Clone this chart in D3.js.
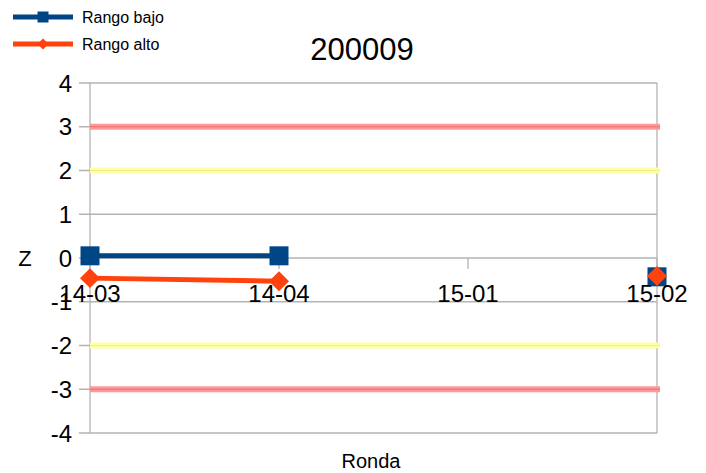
<!DOCTYPE html>
<html>
<head>
<meta charset="utf-8">
<script src="https://cdn.jsdelivr.net/npm/d3@7"></script>
<style>
  body { margin: 0; background: #fff; }
  text { font-family: "Liberation Sans", Arial, sans-serif; fill: #000; }
</style>
</head>
<body>
<div id="chart"></div>
<script>
// chart values
var rondas = ["14-03", "14-04", "15-01", "15-02"];
var rangoBajo = [0.05, 0.05, null, -0.43];
var rangoAlto = [-0.46, -0.53, null, -0.41];
var yTicks = [-4, -3, -2, -1, 0, 1, 2, 3, 4];
var limitesRojos = [3, -3];
var limitesAmarillos = [2, -2];
var titulo = "200009";

var width = 706, height = 473;
var margin = {left: 90, right: 49, top: 83, bottom: 40};

var svg = d3.select("#chart").append("svg")
    .attr("width", width)
    .attr("height", height);

var xScale = d3.scalePoint().domain(rondas).range([margin.left, width - margin.right]).padding(0);
var yScale = d3.scaleLinear().domain([-4, 4]).range([height - margin.bottom, margin.top]);

var grid = "#b3b3b3";

// horizontal gridlines
svg.append("g").selectAll("line")
    .data(yTicks)
    .enter().append("line")
    .attr("x1", margin.left - 11)
    .attr("x2", width - margin.right)
    .attr("y1", function(d) { return yScale(d); })
    .attr("y2", function(d) { return yScale(d); })
    .attr("stroke", grid)
    .attr("stroke-width", 1.3);

// y axis line and right border
svg.append("line")
    .attr("x1", margin.left).attr("x2", margin.left)
    .attr("y1", yScale(4)).attr("y2", yScale(-4))
    .attr("stroke", grid).attr("stroke-width", 1.3);
svg.append("line")
    .attr("x1", width - margin.right).attr("x2", width - margin.right)
    .attr("y1", yScale(4)).attr("y2", yScale(-4))
    .attr("stroke", grid).attr("stroke-width", 1.3);

// x tick marks on the zero line
svg.append("g").selectAll("line")
    .data(rondas)
    .enter().append("line")
    .attr("x1", function(d) { return xScale(d); })
    .attr("x2", function(d) { return xScale(d); })
    .attr("y1", yScale(0))
    .attr("y2", yScale(0) + 11)
    .attr("stroke", grid).attr("stroke-width", 1.3);

// limit lines
function limite(values, outer, inner) {
  var g = svg.append("g");
  g.selectAll(".outer").data(values).enter().append("line")
    .attr("x1", margin.left).attr("x2", width - margin.right + 3)
    .attr("y1", function(d) { return yScale(d); })
    .attr("y2", function(d) { return yScale(d); })
    .attr("stroke", outer).attr("stroke-width", 6);
  g.selectAll(".inner").data(values).enter().append("line")
    .attr("x1", margin.left).attr("x2", width - margin.right + 3)
    .attr("y1", function(d) { return yScale(d); })
    .attr("y2", function(d) { return yScale(d); })
    .attr("stroke", inner).attr("stroke-width", 1.2);
}
limite(limitesRojos, "#ff9999", "#e47272");
limite(limitesAmarillos, "#ffffa4", "#eeee8c");

// series
var line = d3.line()
    .defined(function(d) { return d.v !== null; })
    .x(function(d) { return xScale(d.r); })
    .y(function(d) { return yScale(d.v); });

function serie(values) {
  return rondas.map(function(r, i) { return {r: r, v: values[i]}; });
}

var bajo = serie(rangoBajo);
var alto = serie(rangoAlto);

svg.append("path").datum(bajo)
    .attr("d", line).attr("fill", "none")
    .attr("stroke", "#004586").attr("stroke-width", 5);
svg.append("g").selectAll("path")
    .data(bajo.filter(function(d) { return d.v !== null; }))
    .enter().append("path")
    .attr("d", d3.symbol().type(d3.symbolSquare).size(361))
    .attr("transform", function(d) { return "translate(" + xScale(d.r) + "," + yScale(d.v) + ")"; })
    .attr("fill", "#004586");

svg.append("path").datum(alto)
    .attr("d", line).attr("fill", "none")
    .attr("stroke", "#ff420e").attr("stroke-width", 5);
svg.append("g").selectAll("path")
    .data(alto.filter(function(d) { return d.v !== null; }))
    .enter().append("path")
    .attr("d", d3.symbol().type(d3.symbolSquare).size(200))
    .attr("transform", function(d) { return "translate(" + xScale(d.r) + "," + yScale(d.v) + ") rotate(45)"; })
    .attr("fill", "#ff420e");

// y tick labels
svg.append("g").selectAll("text")
    .data(yTicks)
    .enter().append("text")
    .attr("x", 72)
    .attr("y", function(d) { return yScale(d); })
    .attr("dy", "0.36em")
    .attr("text-anchor", "end")
    .style("font-size", "24px")
    .text(function(d) { return d; });

// x tick labels
svg.append("g").selectAll("text")
    .data(rondas)
    .enter().append("text")
    .attr("x", function(d) { return xScale(d); })
    .attr("y", 302)
    .attr("text-anchor", "middle")
    .style("font-size", "24px")
    .text(function(d) { return d; });

// titles
svg.append("text")
    .attr("x", 362).attr("y", 60)
    .attr("text-anchor", "middle")
    .style("font-size", "31px")
    .text(titulo);
svg.append("text")
    .attr("x", 25).attr("y", yScale(0))
    .attr("dy", "0.36em")
    .attr("text-anchor", "middle")
    .style("font-size", "22px")
    .text("Z");
svg.append("text")
    .attr("x", 371).attr("y", 468)
    .attr("text-anchor", "middle")
    .style("font-size", "20px")
    .text("Ronda");

// legend
var legend = [
  {name: "Rango bajo", color: "#004586", shape: "square", y: 17},
  {name: "Rango alto", color: "#ff420e", shape: "diamond", y: 44}
];
var lg = svg.append("g").selectAll("g")
    .data(legend)
    .enter().append("g")
    .attr("transform", function(d) { return "translate(0," + d.y + ")"; });
lg.append("line")
    .attr("x1", 13).attr("x2", 73)
    .attr("stroke", function(d) { return d.color; })
    .attr("stroke-width", 5);
lg.append("path")
    .attr("d", function(d) { return d3.symbol().type(d3.symbolSquare).size(d.shape == "square" ? 121 : 60)(); })
    .attr("transform", function(d) { return "translate(43,0)" + (d.shape == "diamond" ? " rotate(45)" : ""); })
    .attr("fill", function(d) { return d.color; });
lg.append("text")
    .attr("x", 82).attr("dy", "0.36em")
    .style("font-size", "16px")
    .text(function(d) { return d.name; });
</script>
</body>
</html>
